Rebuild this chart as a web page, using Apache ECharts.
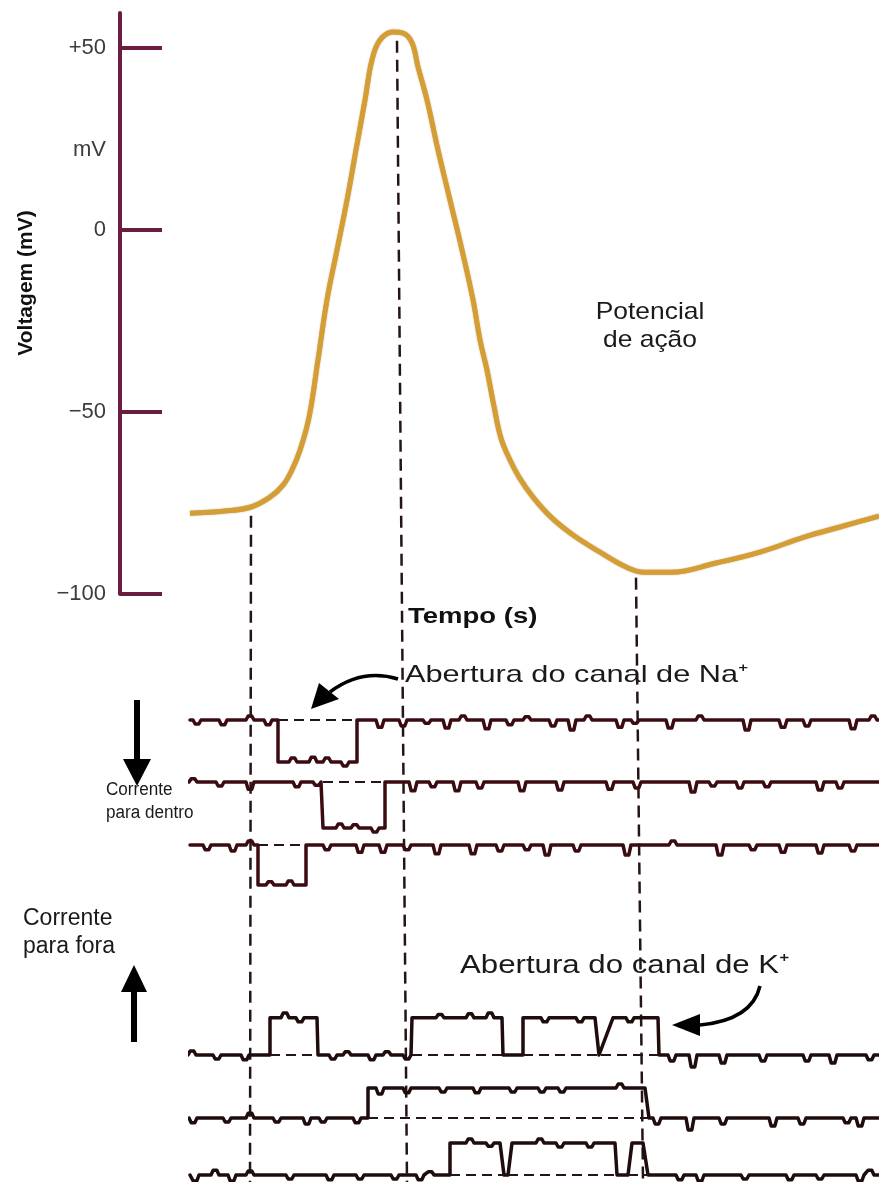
<!DOCTYPE html>
<html><head><meta charset="utf-8">
<script src="https://cdn.jsdelivr.net/npm/echarts@6/dist/echarts.min.js"></script>
<style>html,body{margin:0;padding:0;background:#fff}#c{width:879px;height:1182px}</style>
</head><body><div id="c"></div>
<script>
// ---------- DATA ----------
const tMax = 6.89; // time span (arbitrary ms units)
// Action potential
const apTime    = [0, 0.35, 0.61, 0.80, 0.93, 1.02, 1.10, 1.19, 1.28, 1.37, 1.47, 1.57, 1.66, 1.75, 1.82, 1.90, 2.03, 2.13, 2.22, 2.28, 2.37, 2.48, 2.60, 2.72, 2.83, 2.90, 2.97, 3.04, 3.11, 3.20, 3.29, 3.43, 3.61, 3.83, 4.10, 4.36, 4.54, 4.81, 5.26, 5.70, 6.15, 6.50, 6.89];
const apVoltage = [-77.8, -77.2, -76.1, -73.4, -70.1, -65.9, -60.5, -51.5, -35.7, -19.2, -5.5, 8.2, 22.0, 35.7, 46.7, 52.2, 54.4, 54.1, 51.4, 44.8, 35.7, 22.0, 8.2, -5.5, -19.2, -30.2, -38.5, -48.5, -57.2, -63.2, -67.9, -73.4, -78.9, -83.8, -88.5, -92.6, -94.0, -94.0, -91.5, -88.5, -84.3, -81.6, -78.6];
// voltage axis
const voltTicks = [50, 0, -50, -100];
const voltTickLabels = ['+50', '0', '\u221250', '\u2212100'];
const unitLabelValue = 22;
const unitLabel = 'mV';
// events (dashed guides): time and voltage where they leave the curve, time at the bottom
const eventTime    = [0.61, 2.07, 4.46];
const eventVoltage = [-78.5, 52, -95.5];
const eventTimeEnd = [0.60, 2.17, 4.53];

// single channel recordings: openings [rise start, rise end, fall start, fall end], open level, blips [time, amplitude]
const naOpenings = [
  [[0.88, 0.88, 1.67, 1.67]],
  [[1.33, 1.33, 1.95, 1.95]],
  [[0.68, 0.68, 1.16, 1.16]]
];
const naLevels = [-1.05, -1.15, -1.0];
const naBlips = [
  [[0.07,-0.1],[0.33,-0.12],[0.60,0.1],[0.78,-0.12],[1.03,0.1],[1.23,0.12],[1.37,0.1],[1.55,-0.1],[1.90,-0.18],[2.13,-0.15],[2.37,-0.08],[2.57,-0.2],[2.73,0.1],[2.97,-0.22],[3.20,-0.12],[3.37,0.08],[3.63,-0.15],[3.82,-0.25],[3.98,0.1],[4.30,-0.18],[4.45,-0.08],[4.80,-0.2],[5.10,0.1],[5.57,-0.25],[5.93,-0.18],[6.17,-0.15],[6.63,-0.22],[6.83,0.1]],
  [[0.03,0.08],[0.30,-0.1],[0.60,-0.18],[1.07,-0.12],[1.27,-0.08],[1.50,0.1],[1.65,0.08],[1.85,-0.1],[2.23,-0.22],[2.43,-0.12],[2.67,-0.22],[2.90,-0.15],[3.32,-0.22],[3.70,-0.2],[4.20,-0.18],[4.47,-0.15],[5.03,-0.25],[5.23,-0.1],[5.50,-0.15],[5.77,-0.12],[6.30,-0.2],[6.50,-0.15]],
  [[0.17,-0.12],[0.43,-0.15],[0.60,0.1],[0.80,0.08],[1.00,0.1],[1.37,-0.12],[1.70,-0.18],[1.93,-0.18],[2.17,-0.12],[2.47,-0.22],[2.83,-0.22],[3.10,-0.15],[3.37,-0.12],[3.57,-0.25],[3.87,-0.15],[4.37,-0.25],[4.83,0.1],[5.30,-0.25],[5.63,-0.12],[5.93,-0.18],[6.30,-0.2],[6.63,-0.15]]
];
const kOpenings = [
  [[0.80,0.80,1.27,1.28],[2.22,2.22,3.12,3.13],[3.33,3.33,4.05,4.09],[4.11,4.23,4.68,4.69]],
  [[1.78,1.78,4.55,4.59]],
  [[2.60,2.60,3.10,3.14],[3.18,3.22,4.25,4.27],[4.38,4.42,4.53,4.58]]
];
const kLevels = [0.93, 0.75, 0.8];
const kBlips = [
  [[0.02,0.1],[0.27,-0.1],[0.55,-0.12],[0.95,0.12],[1.10,-0.1],[1.43,-0.1],[1.57,0.08],[1.82,-0.12],[1.97,0.08],[2.17,-0.1],[2.50,0.08],[2.80,0.1],[3.00,0.12],[3.55,-0.1],[3.90,-0.1],[4.40,-0.1],[4.82,-0.15],[5.03,-0.3],[5.33,-0.2],[5.73,-0.15],[6.17,-0.15],[6.43,-0.2],[6.80,-0.12]],
  [[0.03,-0.12],[0.37,-0.1],[0.60,0.12],[0.87,-0.1],[1.17,-0.15],[1.33,-0.1],[1.67,-0.12],[1.90,-0.15],[2.17,-0.12],[2.53,-0.1],[2.87,-0.12],[3.23,-0.1],[3.52,-0.1],[3.72,-0.1],[4.30,0.1],[4.67,-0.15],[5.00,-0.3],[5.33,-0.15],[5.83,-0.2],[6.12,-0.15],[6.57,-0.12],[6.70,-0.2]],
  [[0.05,-0.15],[0.25,0.12],[0.42,-0.15],[0.60,0.1],[1.00,-0.1],[1.40,-0.12],[1.70,-0.1],[2.05,-0.1],[2.30,-0.12],[2.40,0.08],[2.80,0.1],[3.00,-0.08],[3.50,0.1],[3.70,-0.1],[4.00,-0.1],[4.90,-0.12],[5.10,-0.15],[5.55,-0.1],[6.00,-0.12],[6.30,-0.1],[6.70,-0.15],[6.80,0.12]]
];

// ---------- LAYOUT / STYLE ----------
const FONT = '"Liberation Sans", Arial, Helvetica, sans-serif';
const AXIS_COLOR = '#6b1d40';
const GUIDE_COLOR = '#241418';
const GL = 190, GW = 689;
const apTop = 13, apHeight = 581, apMin = -100, apMax = 59.6;
const pxPerMv = apHeight / (apMax - apMin);
const overlayHeight = 1182 - apTop;
const overlayMin = apMax - overlayHeight / pxPerMv;
const naBaselinePx = [720, 782, 845];
const kBaselinePx = [1055, 1118, 1175];
const pxPerUnit = 40;
const naRange = [-1.5, 0.5];
const kRange = [-0.15, 1.5];

function stepPoints(openings, level) {
  const pts = [[0, 0]];
  openings.forEach(o => { pts.push([o[0], 0], [o[1], level], [o[2], level], [o[3], 0]); });
  pts.push([tMax, 0]);
  return pts;
}
function levelAt(pts, t) {
  for (let i = 1; i < pts.length; i++) {
    if (t <= pts[i][0]) {
      const a = pts[i - 1], b = pts[i];
      if (b[0] === a[0]) return b[1];
      return a[1] + (b[1] - a[1]) * (t - a[0]) / (b[0] - a[0]);
    }
  }
  return pts[pts.length - 1][1];
}
function buildTrace(openings, level, blips) {
  const base = stepPoints(openings, level);
  const pts = base.map(p => p.slice());
  blips.forEach(([t, a]) => {
    const L = levelAt(base, t);
    pts.push([t - 0.04, L], [t - 0.018, L + a], [t + 0.018, L + a], [t + 0.04, L]);
  });
  pts.sort((p, q) => p[0] - q[0]);
  return pts;
}

const grids = [
  { left: GL, width: GW, top: apTop, height: apHeight },
  { left: GL, width: GW, top: apTop, height: overlayHeight }
];
const xAxes = [
  { gridIndex: 0, type: 'value', min: 0, max: tMax, show: false },
  { gridIndex: 1, type: 'value', min: 0, max: tMax, show: false }
];
const yAxes = [
  {
    gridIndex: 0, type: 'value', min: apMin, max: apMax, position: 'left', offset: 70,
    axisLine: { show: true, onZero: false, lineStyle: { color: AXIS_COLOR, width: 4 } },
    axisTick: { show: true, inside: true, length: 42, customValues: voltTicks, lineStyle: { color: AXIS_COLOR, width: 4 } },
    axisLabel: {
      show: true, customValues: voltTicks.concat([unitLabelValue]), margin: 14,
      fontSize: 22, color: '#3c3c3c', fontFamily: FONT,
      formatter: v => v === unitLabelValue ? unitLabel : voltTickLabels[voltTicks.indexOf(v)]
    },
    splitLine: { show: false }
  },
  { gridIndex: 1, type: 'value', min: overlayMin, max: apMax, show: false }
];
const series = [];

// dashed event guides
eventTime.forEach((t, i) => {
  series.push({
    type: 'line', xAxisIndex: 1, yAxisIndex: 1, symbol: 'none', silent: true, z: 1,
    lineStyle: { color: GUIDE_COLOR, width: 2.5, type: [12, 7] },
    data: [[t, eventVoltage[i]], [eventTimeEnd[i], overlayMin]]
  });
});
// action potential
series.push({
  type: 'line', xAxisIndex: 0, yAxisIndex: 0, symbol: 'none', smooth: 0.4, z: 5,
  lineStyle: { color: '#d59e34', width: 5, shadowColor: 'rgba(140,90,20,0.6)', shadowBlur: 1.5 },
  data: apTime.map((t, i) => [t, apVoltage[i]])
});

function addTrace(baselinePx, range, openings, level, blips, color) {
  const gi = grids.length;
  grids.push({ left: GL, width: GW, top: baselinePx - range[1] * pxPerUnit, height: (range[1] - range[0]) * pxPerUnit });
  xAxes.push({ gridIndex: gi, type: 'value', min: 0, max: tMax, show: false });
  yAxes.push({ gridIndex: gi, type: 'value', min: range[0], max: range[1], show: false });
  series.push({
    type: 'line', xAxisIndex: gi, yAxisIndex: gi, symbol: 'none', z: 4, clip: false,
    lineStyle: { color: color, width: 3.5, join: 'round', cap: 'round' },
    data: buildTrace(openings, level, blips),
    markLine: {
      silent: true, symbol: 'none', label: { show: false },
      lineStyle: { color: GUIDE_COLOR, width: 2, type: [10, 6] },
      data: openings.map(o => [{ coord: [o[0], 0] }, { coord: [o[3], 0] }])
    }
  });
}
naOpenings.forEach((o, i) => addTrace(naBaselinePx[i], naRange, o, naLevels[i], naBlips[i], '#3a0c12'));
kOpenings.forEach((o, i) => addTrace(kBaselinePx[i], kRange, o, kLevels[i], kBlips[i], '#1f0d0d'));

function txt(x, y, text, font, opts) {
  return Object.assign({
    type: 'text', x: x, y: y, silent: true,
    style: Object.assign({ text: text, font: font, fill: '#1a1a1a', textAlign: 'left', textVerticalAlign: 'middle', align: 'left', verticalAlign: 'middle' }, (opts && opts.style) || {})
  }, (opts && opts.el) || {});
}
const graphics = [
  txt(26, 283, 'Voltagem (mV)', 'bold 21px ' + FONT, { el: { rotation: Math.PI / 2 }, style: { textAlign: 'center', align: 'center', fill: '#111' } }),
  txt(650, 326, 'Potencial\nde ação', '24px ' + FONT, { el: { scaleX: 1.1 }, style: { textAlign: 'center', align: 'center', lineHeight: 28 } }),
  txt(408, 617, 'Tempo (s)', 'bold 22px ' + FONT, { el: { scaleX: 1.25 }, style: { fill: '#111' } }),
  txt(405, 675, 'Abertura do canal de Na\u207A', '24px ' + FONT, { el: { scaleX: 1.28 } }),
  txt(460, 966, 'Abertura do canal de K\u207A', '26px ' + FONT, { el: { scaleX: 1.2 } }),
  txt(106, 802, 'Corrente\npara dentro', '18px ' + FONT, { el: { scaleX: 0.95 }, style: { lineHeight: 23 } }),
  txt(23, 933, 'Corrente\npara fora', '23px ' + FONT, { style: { lineHeight: 28 } }),
  // down arrow (inward current)
  { type: 'rect', silent: true, shape: { x: 134, y: 700, width: 6, height: 62 }, style: { fill: '#000' } },
  { type: 'polygon', silent: true, shape: { points: [[123, 759], [151, 759], [137, 786]] }, style: { fill: '#000' } },
  // up arrow (outward current)
  { type: 'rect', silent: true, shape: { x: 131, y: 988, width: 6, height: 54 }, style: { fill: '#000' } },
  { type: 'polygon', silent: true, shape: { points: [[121, 992], [147, 992], [134, 965]] }, style: { fill: '#000' } },
  // Na arrow
  { type: 'bezierCurve', silent: true, shape: { x1: 398, y1: 679, cpx1: 362, cpy1: 668, x2: 330, y2: 692 }, style: { stroke: '#000', lineWidth: 3.5, fill: null } },
  { type: 'polygon', silent: true, shape: { points: [[311, 709], [319, 683], [339, 699]] }, style: { fill: '#000' } },
  // K arrow
  { type: 'bezierCurve', silent: true, shape: { x1: 760, y1: 986, cpx1: 752, cpy1: 1020, x2: 700, y2: 1025 }, style: { stroke: '#000', lineWidth: 3.5, fill: null } },
  { type: 'polygon', silent: true, shape: { points: [[672, 1025], [700, 1014], [700, 1036]] }, style: { fill: '#000' } }
];

const chart = echarts.init(document.getElementById('c'), null, { renderer: 'canvas' });
chart.setOption({
  backgroundColor: '#fff',
  animation: false,
  grid: grids, xAxis: xAxes, yAxis: yAxes, series: series,
  graphic: { elements: graphics }
});
</script></body></html>
